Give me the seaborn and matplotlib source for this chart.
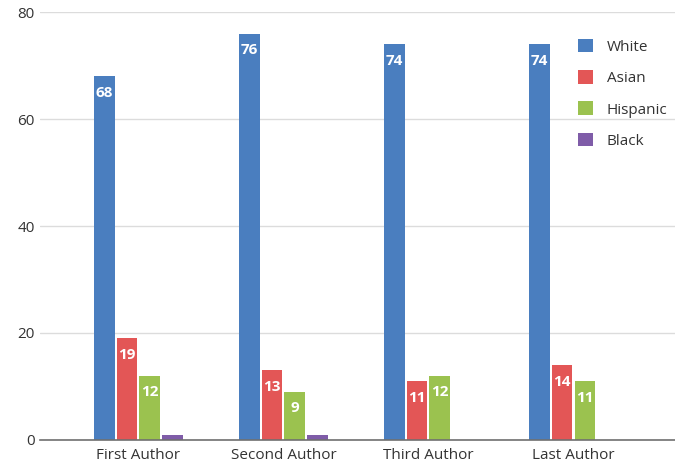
import pandas as pd
import numpy as np
import matplotlib
matplotlib.use('Agg')
import matplotlib.pyplot as plt
import seaborn as sns

# Data
positions = ['First Author', 'Second Author', 'Third Author', 'Last Author']
races = ['White', 'Asian', 'Hispanic', 'Black']
white = [68, 76, 74, 74]
asian = [19, 13, 11, 14]
hispanic = [12, 9, 12, 11]
black = [1, 1, 0, 0]
colors = ['#4a7ebf', '#e35656', '#9bc24f', '#7f5ca8']

# Long-format table for seaborn
rows = []
for race, vals in zip(races, [white, asian, hispanic, black]):
    for pos, v in zip(positions, vals):
        rows.append({'position': pos, 'race': race, 'value': v})
df = pd.DataFrame(rows)

sns.set_style('white')
plt.rcParams['font.family'] = ['Open Sans', 'DejaVu Sans']

fig = plt.figure(figsize=(6.75, 4.68), dpi=100)
ax = fig.add_axes([0.059, 0.06, 0.941, 0.914])

sns.barplot(data=df, x='position', y='value', hue='race', order=positions,
            hue_order=races, palette=colors, width=0.63, gap=0.09,
            saturation=1, linewidth=0, ax=ax)

# value labels inside bar tops (none for Black)
for cont, race in zip(ax.containers, races):
    if race == 'Black':
        continue
    ax.bar_label(cont, labels=[str(int(b.get_height())) for b in cont],
                 padding=-17, color='white', fontweight='bold', fontsize=11)

ax.set_ylim(0, 80)
ax.set_xlim(-0.68, 3.7)
ax.set_yticks([0, 20, 40, 60, 80])
ax.yaxis.grid(True, color='#dcdcdc', linewidth=1)
ax.set_axisbelow(True)
for s in ['top', 'right', 'left']:
    ax.spines[s].set_visible(False)
ax.spines['bottom'].set_color('#707070')
ax.spines['bottom'].set_linewidth(1.2)
ax.tick_params(axis='both', length=0, labelsize=11, colors='#333333')
ax.tick_params(axis='x', pad=6)
ax.set_xlabel('')
ax.set_ylabel('')

leg = ax.legend(loc='upper right', bbox_to_anchor=(1.01, 0.97), frameon=False,
                fontsize=11, handlelength=1.0, handleheight=1.0,
                labelspacing=1.0, handletextpad=0.9)
for t in leg.get_texts():
    t.set_color('#333333')

fig.savefig('out.png', dpi=100)
